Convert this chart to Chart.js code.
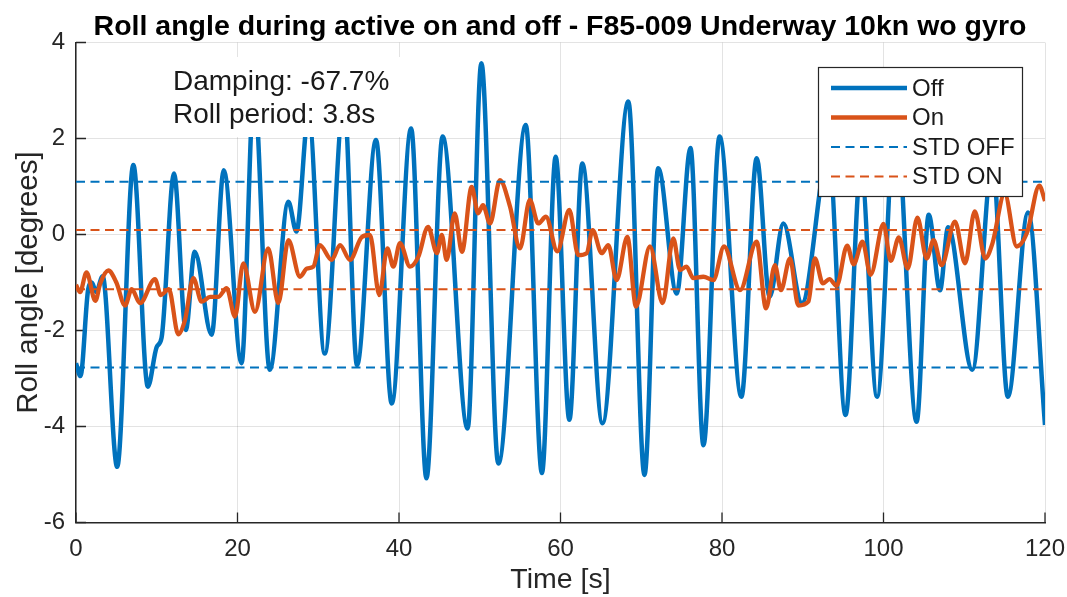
<!DOCTYPE html>
<html><head><meta charset="utf-8">
<script src="https://cdn.jsdelivr.net/npm/chart.js@4"></script>
<style>html,body{margin:0;padding:0;background:#fff;}canvas{display:block;}</style>
</head><body>
<canvas id="c" width="1067" height="597"></canvas>
<script>
const titleText = 'Roll angle during active on and off - F85-009 Underway 10kn wo gyro';
const xLabel = 'Time [s]';
const yLabel = 'Roll angle [degrees]';
const annotationLines = ['Damping: -67.7%', 'Roll period: 3.8s'];
const legendLabels = ['Off', 'On', 'STD OFF', 'STD ON'];
const xTicks = [0, 20, 40, 60, 80, 100, 120];
const yTicks = [-6, -4, -2, 0, 2, 4];

const offTime = [0,0.55,1.5,1.95,2.5,3.3,5.1,7.1,8.9,10.0,10.6,12.14,13.6,14.7,16.8,18.3,20.5,22.05,24.0,26.3,27.3,28.8,30.8,33.2,34.8,37.15,39.1,41.5,43.4,45.4,48.5,50.2,52.3,55.7,57.7,59.4,61.1,62.7,65.2,68.4,70.4,72.1,74.4,76.1,77.7,79.7,82.4,84.3,85.9,87.6,89.9,93.2,95.3,97.2,99.2,101.5,104.1,105.6,107.0,108.0,111.0,113.5,115.4,117.9,120];
const offVal = [-2.68,-2.95,-1.15,-1.0,-1.2,-0.87,-4.84,1.45,-3.17,-2.34,-2.15,1.27,-1.99,-0.36,-2.09,1.34,-2.68,3.0,-2.82,0.68,0.06,2.5,-2.48,2.8,-2.72,1.97,-3.52,2.21,-5.08,2.04,-4.04,3.57,-4.77,2.28,-4.97,1.62,-3.86,1.48,-3.93,2.77,-5.01,1.38,-1.23,1.80,-4.39,2.04,-3.38,1.59,-1.30,0.23,-1.43,1.7,-3.76,1.4,-3.38,2.5,-3.90,0.41,-1.16,0.15,-2.82,1.5,-3.38,0.46,-3.97];

const onTime = [0,0.5,1.3,2.4,3.0,4.0,5.0,6.07,6.9,7.93,9.78,10.5,11.5,12.67,13.5,14.53,15.56,16.6,17.6,18.66,19.69,20.72,22.17,23.8,25.06,26.3,27.74,28.6,29.4,30.2,31.66,32.7,33.93,35.4,36.4,37.56,38.56,39.3,40.12,41.36,42.4,43.6,44.7,45.3,45.9,46.9,47.8,49.0,49.8,50.4,51.27,52.5,53.75,54.98,56.2,57.25,58.2,59.6,61.09,62.2,63.24,63.98,65.1,65.92,66.95,68.28,69.35,71.08,72.65,73.97,74.8,75.6,76.45,77.69,78.93,80.25,82.23,84.29,85.45,86.56,87.3,88.42,89.45,90.69,91.5,92.5,93.3,94.2,95.5,96.3,97.4,98.4,100.0,100.9,101.9,103.0,104.2,105.35,106.2,107.2,108.85,110.1,111.3,112.6,113.5,115.0,116.5,117.8,119.3,120];
const onVal = [-1.05,-1.2,-0.79,-1.38,-1.02,-0.75,-1.0,-1.48,-1.14,-1.43,-0.93,-1.26,-1.14,-2.08,-1.78,-0.91,-1.40,-1.30,-1.30,-1.12,-1.71,-0.60,-1.61,-0.29,-1.43,-0.12,-0.88,-0.71,-0.67,-0.22,-0.53,-0.22,-0.53,-0.05,-0.01,-1.26,-0.29,-0.67,-0.18,-0.67,-0.46,0.16,-0.39,-0.01,-0.53,0.44,-0.36,0.99,0.44,0.61,0.23,1.13,0.58,-0.29,0.72,0.23,0.37,-0.35,0.51,-0.43,-0.39,0.09,-0.39,-0.22,-0.95,-0.05,-1.50,-0.25,-1.43,-0.08,-0.74,-0.67,-0.91,-0.88,-0.95,-0.25,-1.16,-0.15,-1.54,-0.64,-1.16,-0.50,-1.48,-1.40,-0.50,-1.02,-0.93,-1.07,-0.23,-0.62,-0.15,-0.84,0.22,-0.55,-0.06,-0.71,0.35,-0.50,-0.12,-0.64,0.27,-0.60,0.48,-0.50,-0.18,0.85,-0.25,0.05,1.02,0.70];

const stdOff = [1.10, -2.77];
const stdOn = [0.095, -1.14];
const xRange = [0, 120];
const yRange = [-6, 4];

const BLUE = '#0072BD', ORANGE = '#D95319', AX = '#262626';
const FONT = '"Liberation Sans", Arial, Helvetica, sans-serif';

function pts(t, v) { return t.map((x, i) => ({x: x, y: v[i]})); }
function hline(vals) {
  const out = [];
  vals.forEach((v, k) => { if (k > 0) out.push({x: NaN, y: NaN}); xRange.forEach(x => out.push({x: x, y: v})); });
  return out;
}

const decor = {
  id: 'decor',
  beforeDatasetsDraw(chart) {
    const {ctx, chartArea: a, scales: {x, y}} = chart;
    ctx.save();
    ctx.strokeStyle = AX; ctx.lineWidth = 1.3;
    ctx.beginPath();
    xTicks.forEach(v => { const p = x.getPixelForValue(v); ctx.moveTo(p, a.bottom); ctx.lineTo(p, a.bottom - 10); });
    yTicks.forEach(v => { const p = y.getPixelForValue(v); ctx.moveTo(a.left, p); ctx.lineTo(a.left + 10, p); });
    ctx.stroke();
    ctx.restore();
  },
  afterDatasetsDraw(chart) {
    const {ctx} = chart;
    ctx.save();
    ctx.fillStyle = '#fff';
    ctx.fillRect(165, 57, 235, 80);
    ctx.fillStyle = '#1a1a1a';
    ctx.font = '28px ' + FONT;
    ctx.textBaseline = 'alphabetic';
    ctx.textAlign = 'left';
    ctx.fillText(annotationLines[0], 173, 90);
    ctx.fillText(annotationLines[1], 173, 123);
    const lx = 818, ly = 67, lw = 204, lh = 129;
    ctx.fillStyle = '#fff';
    ctx.fillRect(lx, ly, lw, lh);
    ctx.strokeStyle = AX; ctx.lineWidth = 1.2;
    ctx.strokeRect(lx + 0.5, ly + 0.5, lw, lh);
    const rows = [88, 117.5, 147, 176.5];
    chart.data.datasets.forEach((ds, i) => {
      const yy = rows[i];
      ctx.beginPath();
      ctx.strokeStyle = ds.borderColor;
      ctx.lineWidth = ds.borderWidth;
      ctx.setLineDash(ds.borderDash || []);
      ctx.moveTo(831, yy); ctx.lineTo(907, yy);
      ctx.stroke();
      ctx.setLineDash([]);
      ctx.fillStyle = '#1a1a1a';
      ctx.font = '24px ' + FONT;
      ctx.textBaseline = 'middle';
      ctx.fillText(legendLabels[i], 912, yy + 1);
    });
    ctx.restore();
  },
  afterDraw(chart) {
    const {ctx} = chart;
    ctx.save();
    ctx.fillStyle = '#000';
    ctx.font = 'bold 28.5px ' + FONT;
    ctx.textAlign = 'center';
    ctx.textBaseline = 'alphabetic';
    ctx.fillText(titleText, 560, 35);
    ctx.restore();
  }
};

new Chart(document.getElementById('c'), {
  type: 'line',
  data: {
    datasets: [
      {label: legendLabels[0], data: pts(offTime, offVal), borderColor: BLUE, borderWidth: 4.5, pointRadius: 0, cubicInterpolationMode: 'monotone', fill: false, order: 4},
      {label: legendLabels[1], data: pts(onTime, onVal), borderColor: ORANGE, borderWidth: 4.3, pointRadius: 0, cubicInterpolationMode: 'monotone', fill: false, order: 3},
      {label: legendLabels[2], data: hline(stdOff), borderColor: BLUE, borderWidth: 2, borderDash: [9, 5.5], pointRadius: 0, spanGaps: false, fill: false, order: 2},
      {label: legendLabels[3], data: hline(stdOn), borderColor: ORANGE, borderWidth: 2, borderDash: [9, 5.5], pointRadius: 0, spanGaps: false, fill: false, order: 1}
    ]
  },
  options: {
    responsive: false,
    animation: false,
    layout: {padding: {top: 42.5, right: 22, bottom: 0, left: 0}},
    plugins: {legend: {display: false}, title: {display: false}, tooltip: {enabled: false}},
    scales: {
      x: {
        type: 'linear', min: xRange[0], max: xRange[1],
        afterBuildTicks: s => { s.ticks = xTicks.map(v => ({value: v})); },
        afterFit: s => { s.height = 74.5; s.paddingLeft = 0; s.paddingRight = 0; },
        ticks: {color: AX, font: {family: FONT, size: 24}, padding: 12, maxRotation: 0, autoSkip: false},
        grid: {color: 'rgba(38,38,38,0.13)', lineWidth: 1, drawTicks: false},
        border: {display: true, color: AX, width: 1.5},
        title: {display: true, text: xLabel, color: AX, font: {family: FONT, size: 28.5}, padding: {top: 0, bottom: 0}}
      },
      y: {
        type: 'linear', min: yRange[0], max: yRange[1],
        afterBuildTicks: s => { s.ticks = yTicks.map(v => ({value: v})); },
        afterFit: s => { s.width = 76; s.paddingTop = 0; s.paddingBottom = 0; },
        ticks: {color: AX, font: {family: FONT, size: 24}, padding: 11, autoSkip: false},
        grid: {color: 'rgba(38,38,38,0.13)', lineWidth: 1, drawTicks: false},
        border: {display: true, color: AX, width: 1.5},
        title: {display: true, text: yLabel, color: AX, font: {family: FONT, size: 29.5}, padding: {top: 11, bottom: 0}}
      }
    }
  },
  plugins: [decor]
});
</script>
</body></html>
